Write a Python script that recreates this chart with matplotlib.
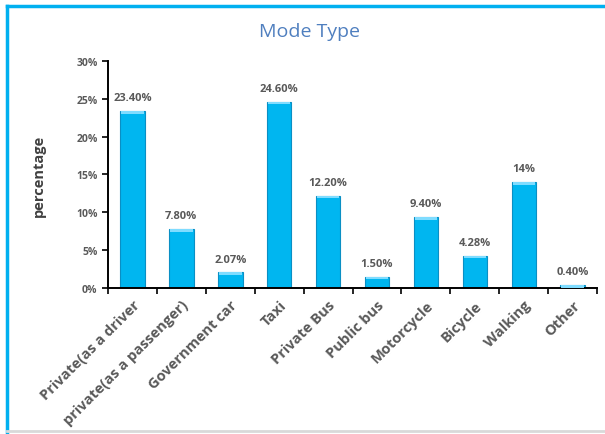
import matplotlib.pyplot as plt
from matplotlib.lines import Line2D
import numpy as np

# chart data
modes = ["Private(as a driver", "private(as a passenger)", "Government car", "Taxi",
         "Private Bus", "Public bus", "Motorcycle", "Bicycle", "Walking", "Other"]
shares = [23.40, 7.80, 2.07, 24.60, 12.20, 1.50, 9.40, 4.28, 14.00, 0.40]
value_labels = ["23.40%", "7.80%", "2.07%", "24.60%", "12.20%", "1.50%",
                "9.40%", "4.28%", "14%", "0.40%"]
y_ticks = [0, 5, 10, 15, 20, 25, 30]

grey = "#595959"
plt.rcParams['font.family'] = ['Open Sans', 'DejaVu Sans']

fig = plt.figure(figsize=(6.05, 4.35), dpi=100)
ax = fig.add_axes([0.1785, 0.3356, 0.8085, 0.522])

x = np.arange(len(modes))
ax.bar(x, shares, width=0.5, color="#00B6F0", edgecolor="#0a8fc4", linewidth=0.8, zorder=2)
# light bevel on top of each bar
cap = 0.35
ax.bar(x, [cap] * len(x), bottom=np.array(shares) - cap, width=0.46,
       color="#7fdcff", linewidth=0, zorder=3)

for xi, v, lab in zip(x, shares, value_labels):
    ax.text(xi, v + 1.0, lab, ha="center", va="bottom", fontsize=8,
            fontweight="bold", color=grey)

ax.set_xlim(-0.5, len(modes) - 0.5)
ax.set_ylim(0, 30)
ax.set_yticks(y_ticks)
ax.set_yticklabels([f"{t}%" for t in y_ticks], fontsize=7.5, fontweight="bold", color=grey)
ax.set_xticks(x)
ax.set_xticklabels(modes, rotation=45, ha="right", rotation_mode="anchor",
                   fontsize=10.5, fontweight="bold", color=grey)
ax.tick_params(axis="x", length=0, pad=7)
ax.set_xticks(np.arange(len(modes) + 1) - 0.5, minor=True)
ax.tick_params(axis="x", which="minor", length=4, width=1.2, color="black")
ax.tick_params(axis="y", length=4, width=1.2, color="black")

for s in ["top", "right"]:
    ax.spines[s].set_visible(False)
for s in ["left", "bottom"]:
    ax.spines[s].set_linewidth(1.4)

ax.set_ylabel("percentage", fontsize=10.5, fontweight="bold", color="#404040", labelpad=22)
fig.text(0.512, 0.926, "Mode Type", ha="center", va="center", fontsize=14, color="#4F7FBF")

# chart frame
fig.add_artist(Line2D([0.012, 0.012], [0.0, 0.985], color="#00B0F0", lw=2.5))
fig.add_artist(Line2D([0.012, 1.0], [0.985, 0.985], color="#00B0F0", lw=2.5))
fig.add_artist(Line2D([0.012, 1.0], [0.006, 0.006], color="#d9d9d9", lw=2))

fig.savefig("out.png", dpi=100)
